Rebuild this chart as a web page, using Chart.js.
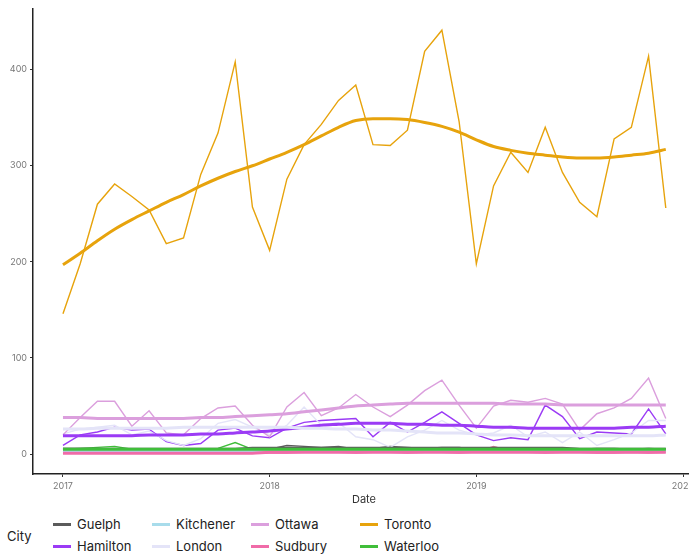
<!DOCTYPE html>
<html>
<head>
<meta charset="utf-8">
<script src="https://cdn.jsdelivr.net/npm/chart.js@4"></script>
<style>
  html, body { margin: 0; padding: 0; background: #fff; overflow: hidden; width: 689px; height: 554px; }
  #wrap { position: relative; width: 689px; height: 554px; overflow: hidden; font-family: Inter, "Noto Sans", sans-serif; }
  #chart { position: absolute; left: 0; top: 0; }
  .legend-title { position: absolute; left: 7px; top: 528px; font-size: 13px; color: #222; }
  .item { position: absolute; font-size: 13px; color: #222; line-height: 16px; }
  .item .sw { display: inline-block; width: 18px; height: 3px; vertical-align: middle; margin-right: 6px; position: relative; top: -1px; }
</style>
</head>
<body>
<div id="wrap">
  <canvas id="chart" width="700" height="510"></canvas>
  <div class="legend-title">City</div>
  <div id="legend"></div>
</div>
<script>
// Mois (1er de chaque mois, 2017-01 -> 2019-12)
const months = [
  '2017-01','2017-02','2017-03','2017-04','2017-05','2017-06','2017-07','2017-08','2017-09','2017-10','2017-11','2017-12',
  '2018-01','2018-02','2018-03','2018-04','2018-05','2018-06','2018-07','2018-08','2018-09','2018-10','2018-11','2018-12',
  '2019-01','2019-02','2019-03','2019-04','2019-05','2019-06','2019-07','2019-08','2019-09','2019-10','2019-11','2019-12'
];

const cities = ['Guelph', 'Hamilton', 'Kitchener', 'London', 'Ottawa', 'Sudbury', 'Toronto', 'Waterloo'];
const cityColors = ['#5b5b5b', '#9b3bf5', '#a8dceb', '#e4e4f8', '#db9fdd', '#f06ba8', '#e7a30c', '#40be3a'];

// valeurs mensuelles
const guelph    = [6,6,6,5,5,5,5,5,5,5,5,5, 5,9,8,7,8,5,6,8,7,6,7,7, 5,6,6,5,6,5,5,6,6,5,6,5];
const hamilton  = [9,20,23,28,25,26,13,9,11,25,27,19, 17,27,33,35,36,37,18,33,23,33,44,32, 20,14,17,15,51,39,16,23,22,21,47,21];
const kitchener = [3,3,4,3,3,3,2,3,3,3,4,3, 3,3,4,3,4,3,3,4,3,3,4,3, 2,4,3,3,4,3,2,3,4,3,4,3];
const london    = [21,26,28,30,20,24,14,9,16,32,36,28, 20,30,49,30,33,18,15,7,18,25,35,25, 20,22,30,18,23,12,23,9,15,22,35,35];
const ottawa    = [20,38,55,55,29,45,22,20,37,48,50,30, 18,49,64,40,48,62,49,39,51,66,77,51, 27,50,56,54,58,52,25,42,48,58,79,37];
const sudbury   = [1,1,1,2,2,1,1,1,1,2,1,1, 1,1,2,2,2,1,2,2,1,2,2,1, 2,8,3,2,1,2,2,1,1,2,1,2];
const toronto   = [146,198,260,281,268,254,219,225,291,334,408,257, 212,286,322,343,368,384,322,321,337,419,441,346, 198,279,314,293,340,293,262,247,328,340,414,256];
const waterloo  = [5,6,7,8,5,4,3,4,5,6,12,5, 4,4,5,5,5,5,4,5,4,4,3,4, 5,7,6,5,3,4,5,3,5,5,4,5];

// tendances lissées
const guelphTrend    = [5,5,5,5,5,5,5,5,5,5,5,6, 6,6,6,6,6,6,6,6,6,6,6,6, 6,6,6,6,6,6,5,5,5,5,5,5];
const hamiltonTrend  = [19,19,19,19,19,20,20,20,21,21,22,23, 24,26,28,30,31,32,32,32,31,31,30,30, 29,28,28,27,27,27,27,27,27,28,28,29];
const kitchenerTrend = [3,3,3,3,3,3,3,3,3,3,3,3, 3,3,3,3,3,3,3,3,3,3,3,3, 3,3,3,3,3,3,3,3,3,3,3,3];
const londonTrend    = [26,26,27,27,27,27,27,28,28,28,28,28, 28,28,27,27,26,26,25,25,24,23,22,22, 21,20,20,19,19,19,19,19,19,19,19,20];
const ottawaTrend    = [38,38,37,37,37,37,37,37,38,38,39,40, 41,42,44,46,48,50,51,52,53,53,53,53, 53,53,52,52,52,51,51,51,51,51,51,51];
const sudburyTrend   = [1,1,1,1,1,1,1,1,1,1,1,1, 2,2,2,2,2,2,2,2,2,2,2,2, 2,2,2,2,2,2,2,2,2,2,2,2];
const torontoTrend   = [197,209,222,234,244,253,262,270,279,287,294,300, 307,314,322,331,340,347,349,349,348,345,341,335, 327,320,316,313,311,309,308,308,309,311,313,317];
const waterlooTrend  = [5,5,5,5,5,5,5,5,5,5,5,5, 5,5,5,5,5,5,5,5,5,5,5,5, 5,5,5,5,5,5,5,5,5,5,5,5];

const xTicks = [2017, 2018, 2019, 2020];
const yTicks = [0, 100, 200, 300, 400];

const values = [guelph, hamilton, kitchener, london, ottawa, sudbury, toronto, waterloo];
const trends = [guelphTrend, hamiltonTrend, kitchenerTrend, londonTrend, ottawaTrend, sudburyTrend, torontoTrend, waterlooTrend];

// date 'YYYY-MM' -> année décimale
function toYear(m) {
  const [y, mo] = m.split('-').map(Number);
  return y + (mo - 1) / 12;
}
function toPoints(arr) {
  return arr.map((v, i) => ({ x: toYear(months[i]), y: v }));
}

// ordre de dessin : lignes puis tendances (le premier dataset est dessiné en dernier)
const paintOrder = [];
cities.forEach((c, i) => {
  paintOrder.push({
    label: c, data: toPoints(values[i]), borderColor: cityColors[i],
    borderWidth: 1.4, pointRadius: 0, tension: 0, fill: false
  });
});
cities.forEach((c, i) => {
  paintOrder.push({
    label: c + ' trend', data: toPoints(trends[i]), borderColor: cityColors[i],
    borderWidth: 3, pointRadius: 0, cubicInterpolationMode: 'monotone', fill: false
  });
});
const datasets = paintOrder.reverse();

const tickFont = { family: 'Inter, "Noto Sans", sans-serif', size: 9 };

new Chart(document.getElementById('chart'), {
  type: 'line',
  data: { datasets: datasets },
  options: {
    responsive: false,
    animation: false,
    devicePixelRatio: 1,
    layout: { padding: { top: 7, right: 5, left: 0, bottom: 0 } },
    plugins: { legend: { display: false }, tooltip: { enabled: false } },
    scales: {
      x: {
        type: 'linear',
        min: 2016.855,
        max: 2020.058,
        afterBuildTicks: s => { s.ticks = xTicks.map(v => ({ value: v })); },
        afterFit: s => { s.height = 36; },
        border: { display: true, color: '#222', width: 1.5 },
        grid: { display: true, drawOnChartArea: false, tickLength: 3, color: '#333' },
        ticks: { color: '#777', font: tickFont, padding: 4, maxRotation: 0, callback: v => String(v) },
        title: { display: true, text: 'Date', color: '#333', font: { family: 'Inter, "Noto Sans", sans-serif', size: 11 }, padding: { top: 0 } }
      },
      y: {
        min: -20.7,
        max: 463.7,
        afterBuildTicks: s => { s.ticks = yTicks.map(v => ({ value: v })); },
        afterFit: s => { s.width = 33; },
        border: { display: true, color: '#222', width: 1.5 },
        grid: { display: true, drawOnChartArea: false, tickLength: 3, color: '#333' },
        ticks: { color: '#777', font: tickFont, padding: 3 }
      }
    }
  }
});

// légende HTML (2 lignes x 4 colonnes, rempli par colonne)
const legendCols = [53, 152, 251, 360];
const legendRows = [516, 538];
const legendEl = document.getElementById('legend');
cities.forEach((c, i) => {
  const col = Math.floor(i / 2), row = i % 2;
  const d = document.createElement('div');
  d.className = 'item';
  d.style.left = legendCols[col] + 'px';
  d.style.top = legendRows[row] + 'px';
  d.innerHTML = '<span class="sw" style="background:' + cityColors[i] + '"></span>' + c;
  legendEl.appendChild(d);
});
</script>
</body>
</html>
